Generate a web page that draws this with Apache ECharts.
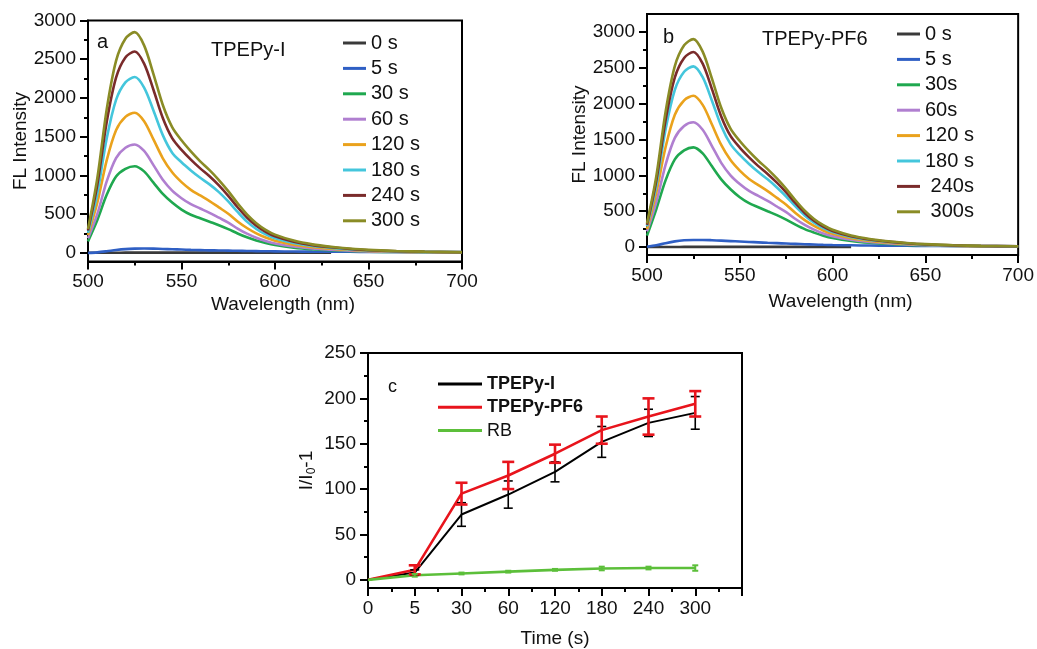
<!DOCTYPE html>
<html>
<head>
<meta charset="utf-8">
<script src="https://cdn.jsdelivr.net/npm/echarts@6/dist/echarts.min.js"></script>
<style>
html,body{margin:0;padding:0;background:#fff;}
#chart{width:1037px;height:649px;}
</style>
</head>
<body>
<div id="chart"></div>
<script>
// ---------- data ----------
const wavelengths = [500,505,510,515,520,525,530,535,540,545,550,555,560,565,570,575,580,585,590,595,600,610,620,630,640,650,665,680,700];

// Panel a: TPEPy-I
const a0   = [2,3,3,3,4,4,4,4,4,4,4,4,4,4,4,4,4,4,4,4,4,4,4,4,null,null,null,null,null];
const a5   = [0,8,22,38,50,56,58,56,52,48,44,40,37,34,32,30,28,26,24,22,21,19,17,16,15,14,13,12,12];
const a30  = [150,426,750,986,1086,1120,1053,907,762,650,560,493,448,403,358,308,252,202,162,129,103,69,48,35,25,18,12,8,6];
const a60  = [190,504,924,1225,1358,1400,1316,1134,945,805,707,630,574,518,455,392,315,249,196,154,123,83,57,42,29,21,14,9,6];
const a120 = [230,652,1195,1584,1756,1810,1701,1466,1222,1041,914,815,742,670,588,507,407,322,253,199,159,107,74,54,38,27,18,12,8];
const a180 = [260,772,1476,1975,2202,2270,2134,1839,1521,1294,1170,1065,970,885,785,665,530,405,310,240,190,128,89,64,45,32,20,14,9];
const a240 = [290,884,1690,2262,2522,2600,2444,2106,1742,1482,1330,1205,1092,990,872,738,590,458,352,274,216,146,101,73,52,36,23,16,10];
const a300 = [310,969,1853,2480,2765,2850,2679,2309,1910,1625,1454,1311,1183,1069,941,798,641,499,385,299,237,160,111,80,57,40,26,17,11];

// Panel b: TPEPy-PF6
const b0   = [2,2,2,2,3,3,3,3,3,3,3,3,3,3,3,3,3,3,3,3,3,3,null,null,null,null,null,null,null];
const b5   = [5,25,55,80,95,100,100,96,90,84,78,72,66,60,55,50,45,40,36,32,29,25,22,20,18,16,15,14,13];
const b30  = [160,528,931,1223,1348,1390,1307,1126,945,806,695,612,556,500,445,382,313,250,202,160,128,86,60,43,31,22,15,10,7];
const b60  = [220,626,1148,1523,1688,1740,1636,1409,1175,1001,879,783,713,644,566,487,392,310,244,191,153,103,71,52,37,26,17,11,8];
const b120 = [250,760,1393,1846,2047,2110,1983,1709,1424,1213,1066,950,865,781,686,591,475,376,295,232,186,124,87,63,44,32,21,14,9];
const b180 = [290,857,1638,2192,2444,2520,2369,2041,1688,1436,1285,1159,1046,945,832,706,567,441,340,265,209,141,98,71,50,35,23,15,10];
const b240 = [310,925,1768,2366,2638,2720,2557,2203,1822,1550,1387,1251,1129,1020,898,762,612,476,367,286,226,152,106,76,54,38,24,16,11];
const b300 = [330,986,1885,2523,2813,2900,2726,2349,1943,1653,1479,1334,1204,1088,957,812,653,508,392,305,241,162,113,81,58,41,26,17,12];

const namesA = ['0 s','5 s','30 s','60 s','120 s','180 s','240 s','300 s'];
const namesB = ['0 s','5 s','30s','60s','120 s','180 s',' 240s',' 300s'];

// Panel c
const timeLabels = ['0','5','30','60','120','180','240','300'];
const tpepyI   = [0,8,72,94,119,152,173,184];
const errI     = [0,3,13,15,11,17,15,18];
const tpepyPF6 = [0,11,95,115,139,165,180,194];
const errPF6   = [0,5,12,15,10,15,20,14];
const rb       = [0,5,7,9,11,12.5,13,13];
const errRB    = [0,1.5,1,1,1,2,1.5,3];

// tick values
const yTicksAB = [0,500,1000,1500,2000,2500,3000];
const yMinorAB = [250,750,1250,1750,2250,2750];
const yTicksC  = [0,50,100,150,200,250];
const yMinorC  = [25,75,125,175,225];

// ---------- styles ----------
const FONT = 'Liberation Sans, Arial, sans-serif';
const colors = ['#3a3a3a','#2f5fc4','#1fa84f','#b07fd0','#eaa21c','#44c6dc','#7a2b2b','#8a8c26'];
const TXT = '#111';

function xAxisSpec(grid, gap){
  return {
    type:'value', gridIndex:grid, min:500, max:700, interval:50,
    name:'Wavelength (nm)', nameLocation:'middle', nameGap:gap,
    nameTextStyle:{fontSize:19, color:TXT, fontFamily:FONT, padding:[0,0,0,16]},
    axisLine:{show:true, onZero:false, lineStyle:{color:'#000', width:2}},
    axisTick:{show:true, length:8, lineStyle:{color:'#000', width:2}},
    minorTick:{show:true, splitNumber:2, length:4, lineStyle:{color:'#000', width:2}},
    axisLabel:{fontSize:19, color:TXT, fontFamily:FONT, margin:11},
    splitLine:{show:false}
  };
}
function yMain(grid, min, max, ticks, name, gap){
  return {
    type:'value', gridIndex:grid, min:min, max:max, position:'left',
    name:name, nameLocation:'middle', nameGap:gap,
    nameTextStyle:{fontSize:19, color:TXT, fontFamily:FONT},
    axisLine:{show:true, onZero:false, lineStyle:{color:'#000', width:2}},
    axisTick:{show:true, length:8, customValues:ticks, lineStyle:{color:'#000', width:2}},
    axisLabel:{fontSize:19, color:TXT, fontFamily:FONT, margin:12, customValues:ticks,
      formatter: v => String(Math.round(v))},
    splitLine:{show:false}
  };
}
function yMinor(grid, min, max, ticks){
  return {
    type:'value', gridIndex:grid, min:min, max:max, position:'left',
    axisLine:{show:false},
    axisTick:{show:true, length:4, customValues:ticks, lineStyle:{color:'#000', width:2}},
    axisLabel:{show:false}, splitLine:{show:false}
  };
}

const seriesList = [];
function addSpectra(names, arrays, xi, yi){
  arrays.forEach((arr, k) => {
    seriesList.push({
      type:'line', name:names[k], xAxisIndex:xi, yAxisIndex:yi,
      data: wavelengths.map((w,i) => [w, arr[i]]),
      smooth:0.3, symbol:'none', showSymbol:false,
      lineStyle:{color:colors[k], width:2.6},
      itemStyle:{color:colors[k]},
      z: 2 + k
    });
  });
}
addSpectra(namesA, [a0,a5,a30,a60,a120,a180,a240,a300], 0, 0);
addSpectra(namesB, [b0,b5,b30,b60,b120,b180,b240,b300], 1, 2);

function errRender(color, cap, lw){
  return function(params, api){
    const x = api.value(0), y = api.value(1), e = api.value(2);
    if (!e) return;
    const p1 = api.coord([x, y + e]);
    const p2 = api.coord([x, y - e]);
    const st = {stroke:color, lineWidth:lw};
    return {type:'group', children:[
      {type:'line', shape:{x1:p1[0], y1:p1[1], x2:p2[0], y2:p2[1]}, style:st},
      {type:'line', shape:{x1:p1[0]-cap, y1:p1[1], x2:p1[0]+cap, y2:p1[1]}, style:st},
      {type:'line', shape:{x1:p2[0]-cap, y1:p2[1], x2:p2[0]+cap, y2:p2[1]}, style:st}
    ]};
  };
}
const cSets = [
  {name:'TPEPy-I', vals:tpepyI, errs:errI, color:'#000000', lw:2, elw:1.6, cap:4.5},
  {name:'TPEPy-PF6', vals:tpepyPF6, errs:errPF6, color:'#e8141c', lw:2.6, elw:2.6, cap:6},
  {name:'RB', vals:rb, errs:errRB, color:'#5cbf3a', lw:2.6, elw:2, cap:3}
];
cSets.forEach((s, k) => {
  seriesList.push({
    type:'line', name:s.name, xAxisIndex:2, yAxisIndex:4,
    data: timeLabels.map((t,i) => [i, s.vals[i]]),
    symbol:'none', showSymbol:false,
    lineStyle:{color:s.color, width:s.lw}, itemStyle:{color:s.color}, z:3+k
  });
  seriesList.push({
    type:'custom', name:s.name + ' err', xAxisIndex:2, yAxisIndex:4,
    renderItem: errRender(s.color, s.cap, s.elw),
    data: timeLabels.map((t,i) => [i, s.vals[i], s.errs[i]]),
    encode:{x:0, y:1}, z:6+k
  });
});

const gridBox = {show:true, borderColor:'#000', borderWidth:2, backgroundColor:'transparent'};

const option = {
  animation:false,
  textStyle:{fontFamily:FONT},
  grid:[
    Object.assign({left:88, top:20.5, width:374, height:241}, gridBox),
    Object.assign({left:647, top:14, width:374, height:241}, gridBox),
    Object.assign({left:368, top:353, width:374, height:242}, gridBox)
  ],
  xAxis:[
    xAxisSpec(0, 34), xAxisSpec(1, 37),
    {
      type:'value', gridIndex:2, min:0, max:8, interval:1,
      name:'Time (s)', nameLocation:'middle', nameGap:41,
      nameTextStyle:{fontSize:19, color:TXT, fontFamily:FONT},
      axisLine:{show:true, onZero:false, lineStyle:{color:'#000', width:2}},
      axisTick:{show:true, length:8, lineStyle:{color:'#000', width:2}},
      minorTick:{show:true, splitNumber:2, length:4, lineStyle:{color:'#000', width:2}},
      axisLabel:{fontSize:19, color:TXT, fontFamily:FONT, margin:11,
        formatter: v => (timeLabels[v] !== undefined ? timeLabels[v] : '')},
      splitLine:{show:false}
    }
  ],
  yAxis:[
    yMain(0, -110, 3000, yTicksAB, 'FL Intensity', 52),
    yMinor(0, -110, 3000, yMinorAB),
    yMain(1, -110, 3250, yTicksAB, 'FL Intensity', 52),
    yMinor(1, -110, 3250, yMinorAB),
    Object.assign(yMain(2, -9, 250, yTicksC, '{i|I/I}{s|0}{i|-1}', 50), {
      nameTextStyle:{color:TXT, fontFamily:FONT, rich:{
        i:{fontSize:19, color:TXT, fontFamily:FONT},
        s:{fontSize:12, color:TXT, fontFamily:FONT, padding:[10,0,0,0]}
      }}
    }),
    yMinor(2, -9, 250, yMinorC)
  ],
  legend:[
    {orient:'vertical', left:343, top:33, padding:0, icon:'rect', itemWidth:23, itemHeight:3, itemGap:5.4,
     textStyle:{fontSize:20, lineHeight:20, color:TXT, fontFamily:FONT},
     data:namesA, selectedMode:false},
    {orient:'vertical', left:897, top:24, padding:0, icon:'rect', itemWidth:23, itemHeight:3, itemGap:5.4,
     textStyle:{fontSize:20, lineHeight:20, color:TXT, fontFamily:FONT},
     data:namesB, selectedMode:false},
    {orient:'vertical', left:438, top:375, padding:0, icon:'rect', itemWidth:44, itemHeight:3, itemGap:5.3,
     textStyle:{fontSize:18, lineHeight:18, color:TXT, fontFamily:FONT, fontWeight:'bold'},
     data:[{name:'TPEPy-I'},{name:'TPEPy-PF6'},{name:'RB', textStyle:{fontWeight:'normal'}}],
     selectedMode:false}
  ],
  graphic:[
    {type:'text', left:97, top:32, style:{text:'a', fontSize:20, fill:TXT, fontFamily:FONT}},
    {type:'text', left:211, top:40, style:{text:'TPEPy-I', fontSize:20, fill:TXT, fontFamily:FONT}},
    {type:'text', left:663, top:27, style:{text:'b', fontSize:20, fill:TXT, fontFamily:FONT}},
    {type:'text', left:762, top:29, style:{text:'TPEPy-PF6', fontSize:20, fill:TXT, fontFamily:FONT}},
    {type:'text', left:388, top:378, style:{text:'c', fontSize:18, fill:TXT, fontFamily:FONT}}
  ],
  series:seriesList
};

const chart = echarts.init(document.getElementById('chart'), null, {renderer:'canvas'});
chart.setOption(option);
</script>
</body>
</html>
